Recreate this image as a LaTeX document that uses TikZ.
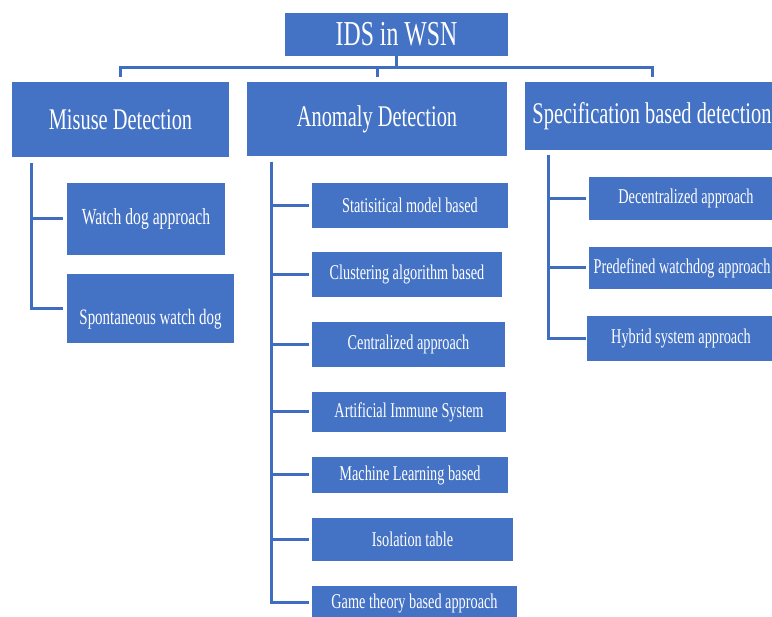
\documentclass[tikz,border=0pt]{standalone}
\usepackage{fontspec}
\newfontfamily\cf[FakeStretch=0.68]{Liberation Serif}
\definecolor{boxblue}{HTML}{4472C4}
\definecolor{lineblue}{HTML}{3F6DBF}
\tikzset{
  box/.style={fill=boxblue, draw=none, inner sep=0pt, text=white, align=center, font=\cf},
  head/.style={box, font=\cf\fontsize{30}{36}\selectfont},
  subA/.style={box, font=\cf\fontsize{21}{25}\selectfont},
  subM/.style={box, font=\cf\fontsize{23}{27}\selectfont},
  conn/.style={draw=lineblue, line width=3pt},
}
\begin{document}
\begin{tikzpicture}[x=1pt,y=-1pt]
\useasboundingbox (0,0) rectangle (772,617);
\clip (0,0) rectangle (772,617);
% top
\node[box, font=\cf\fontsize{35}{40}\selectfont, minimum width=223, minimum height=43] (ids) at (396.5,34.5) {IDS in WSN};
% level 1
\node[head, minimum width=217, minimum height=75] (mis) at (120.5,119.5) {Misuse Detection};
\node[head, minimum width=260, minimum height=74] (ano) at (377,119) {Anomaly Detection};
\node[head, minimum width=254, minimum height=68] (spe) at (652,116) {Specification based detection};
% misuse children
\node[subM, minimum width=158, minimum height=72] (wd) at (146,219) {Watch dog approach};
\node[box, font=\cf\fontsize{22}{26}\selectfont, minimum width=167, minimum height=69] (sp) at (150.5,308.5) {\raisebox{-16pt}[0pt][0pt]{Spontaneous watch dog}};
% anomaly children
\node[subA, minimum width=196, minimum height=45] (st) at (410,205.5) {Statisitical model based};
\node[subA, minimum width=190, minimum height=45] (cl) at (407,274.5) {Clustering algorithm based};
\node[subA, minimum width=193, minimum height=45] (ce) at (408.5,344.5) {Centralized approach};
\node[subA, minimum width=194, minimum height=40] (ai) at (409,412) {Artificial Immune System};
\node[subA, minimum width=196, minimum height=36] (ml) at (410,475) {Machine Learning based};
\node[subA, minimum width=201, minimum height=43] (it) at (412.5,539.5) {Isolation table};
\node[subA, minimum width=205, minimum height=34] (gt) at (414.5,603) {Game theory based approach};
% specification children
\node[subA, minimum width=194, minimum height=43] (dc) at (686,198.5) {Decentralized approach};
\node[subA, minimum width=186, minimum height=42] (pw) at (682,268) {Predefined watchdog approach};
\node[subA, minimum width=188, minimum height=45] (hy) at (681,338.5) {Hybrid system approach};
% top connectors
\coordinate (bus) at (396.5,68);
\draw[conn] (ids.south) -- (bus);
\draw[conn, shorten <=5pt] (mis.north) |- (bus);
\draw[conn, shorten <=5pt] (spe.north) |- (bus);
\draw[conn, shorten <=5pt] (ano.north) -- (ano.north |- bus);
% misuse trunk
\coordinate (mt) at (31,163);
\draw[conn, shorten >=4pt] (mt) |- (wd.west);
\draw[conn, shorten >=4pt] (mt) |- (sp.west);
% anomaly trunk
\coordinate (at) at (271,162);
\foreach \n in {st,cl,ce,ai,ml,it,gt}{
  \draw[conn, shorten >=3pt] (at) |- (\n.west);
}
% specification trunk
\coordinate (stk) at (548,155);
\draw[conn, shorten >=3pt] (stk) |- (dc.west);
\draw[conn, shorten >=3pt] (stk) |- (pw.west);
\draw[conn, shorten >=1pt] (stk) |- (hy.west);
\end{tikzpicture}
\end{document}
